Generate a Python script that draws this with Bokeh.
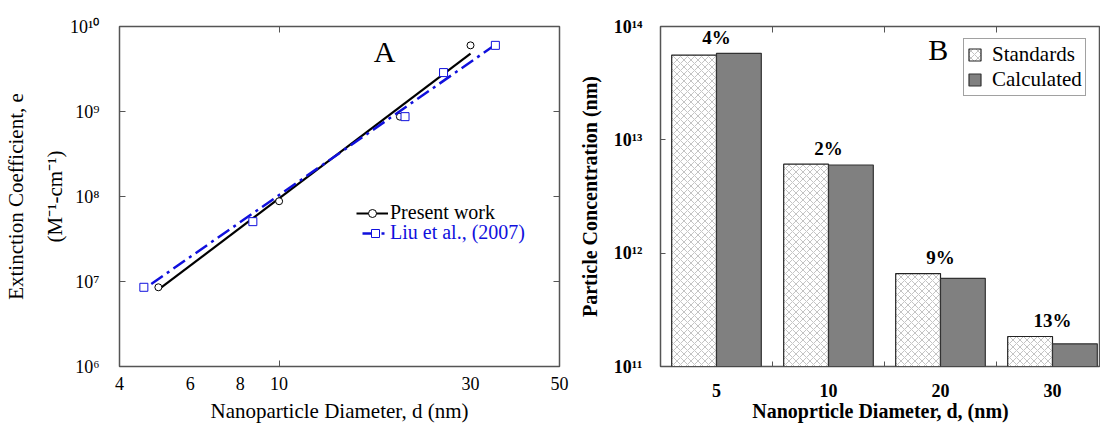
from bokeh.plotting import figure
from bokeh.models import (LogAxis, LinearAxis, FixedTicker, Label, Legend, LegendItem, Range1d)
from bokeh.layouts import row
from bokeh.core.properties import value
from bokeh.embed import file_html
from bokeh.resources import INLINE

SERIF = "'Liberation Serif', 'Times New Roman', serif"

# ---------------- Panel A data ----------------
diam_present = [5, 10, 20, 30]
eps_present = [8.55e6, 8.8e7, 8.7e8, 6.0e9]
fit_present_d = [5, 30]
fit_present_e = [8.0e6, 4.79e9]

diam_liu = [4.6, 8.6, 20.6, 25.7, 34.6]
eps_liu = [8.55e6, 5.06e7, 8.7e8, 2.87e9, 6.0e9]
fit_liu_d = [4.8, 34.6]
fit_liu_e = [9.35e6, 6.1e9]

a_xticks = [4, 6, 8, 10, 30, 50]
a_yticks = [1e6, 1e7, 1e8, 1e9, 1e10]
a_ylabels = ["10⁶", "10⁷", "10⁸", "10⁹", "10¹⁰"]

# ---------------- Panel B data ----------------
sizes = ["5", "10", "20", "30"]
standards = [5.6e13, 6.1e12, 6.6e11, 1.84e11]
calculated = [5.8e13, 6.0e12, 6.0e11, 1.585e11]
pct = ["4%", "2%", "9%", "13%"]
b_yticks = [1e11, 1e12, 1e13, 1e14]
b_ylabels = ["10¹¹", "10¹²", "10¹³", "10¹⁴"]

FRAME = "#555555"


def blank_axis(cls, ticks, tick_in, **kw):
    return cls(ticker=FixedTicker(ticks=ticks, minor_ticks=[]),
               major_label_overrides={t: "" for t in ticks},
               major_label_text_font_size="0px", axis_line_color=None,
               major_tick_in=tick_in, major_tick_out=0, major_tick_line_color=FRAME,
               minor_tick_in=0, minor_tick_out=0, major_label_standoff=0, **kw)


# ================= Panel A =================
p1 = figure(width=575, height=425, x_axis_type="log", y_axis_type="log",
            x_range=Range1d(4, 50), y_range=Range1d(1e6, 1e10),
            output_backend="svg", toolbar_location=None,
            min_border_left=113, min_border_right=16,
            min_border_top=26, min_border_bottom=57)
p1.grid.visible = False
p1.outline_line_color = FRAME
p1.outline_line_width = 1.5

xa = p1.xaxis[0]
xa.ticker = FixedTicker(ticks=a_xticks, minor_ticks=[10])
xa.major_label_overrides = {t: str(t) for t in a_xticks}
xa.axis_line_color = None
xa.major_tick_in = 0
xa.major_tick_out = 0
xa.minor_tick_in = 6
xa.minor_tick_out = 0
xa.minor_tick_line_color = FRAME
xa.major_label_standoff = 10
xa.major_label_text_font = SERIF
xa.major_label_text_font_size = "18px"
xa.major_label_text_color = "black"
xa.axis_label = "Nanoparticle Diameter, d (nm)"
xa.axis_label_standoff = 6
xa.axis_label_text_font = SERIF
xa.axis_label_text_font_style = "normal"
xa.axis_label_text_font_size = "21px"
xa.axis_label_text_color = "black"

ya = p1.yaxis[0]
ya.ticker = FixedTicker(ticks=a_yticks, minor_ticks=[])
ya.major_label_overrides = dict(zip(a_yticks, a_ylabels))
ya.axis_line_color = None
ya.major_tick_in = 6
ya.major_tick_out = 0
ya.major_tick_line_color = FRAME
ya.minor_tick_in = 0
ya.minor_tick_out = 0
ya.major_label_standoff = 20
ya.major_label_text_font = SERIF
ya.major_label_text_font_size = "18px"
ya.major_label_text_color = "black"
ya.axis_label = "(M⁻¹-cm⁻¹)"
ya.axis_label_standoff = 0
ya.axis_label_text_font = SERIF
ya.axis_label_text_font_style = "normal"
ya.axis_label_text_font_size = "21px"
ya.axis_label_text_color = "black"

ya2 = blank_axis(LogAxis, [], 0,
                 axis_label="Extinction Coefficient, e", axis_label_standoff=13,
                 axis_label_text_font=SERIF, axis_label_text_font_style="normal",
                 axis_label_text_font_size="21px", axis_label_text_color="black")
p1.add_layout(ya2, "left")

p1.add_layout(blank_axis(LogAxis, a_yticks, 6), "right")
p1.add_layout(blank_axis(LogAxis, [10], 6), "above")

BLUE = "#1010dd"
rl_p = p1.line(fit_present_d, fit_present_e, line_color="black", line_width=2.2)
rs_p = p1.scatter(diam_present, eps_present, marker="circle", size=7,
                  line_color="black", fill_color="white", line_width=1)
rl_l = p1.line(fit_liu_d, fit_liu_e, line_color=BLUE, line_width=2.5,
               line_dash="14 5 3 5")
rs_l = p1.scatter(diam_liu, eps_liu, marker="square", size=8,
                  line_color=BLUE, fill_color="white", line_width=1)

leg1 = Legend(items=[LegendItem(label="Present work", renderers=[rl_p, rs_p])],
              location=(237, 142), glyph_width=32, glyph_height=20,
              label_standoff=2, padding=0, margin=0, spacing=0,
              border_line_color=None, background_fill_alpha=0,
              label_text_font=SERIF, label_text_font_size="20px",
              label_text_color="black", label_height=20)
leg2 = Legend(items=[LegendItem(label="Liu et al., (2007)", renderers=[rl_l, rs_l])],
              location=(243, 122), glyph_width=26, glyph_height=20,
              label_standoff=2, padding=0, margin=0, spacing=0,
              border_line_color=None, background_fill_alpha=0,
              label_text_font=SERIF, label_text_font_size="20px",
              label_text_color=BLUE, label_height=20)
p1.add_layout(leg1)
p1.add_layout(leg2)

p1.add_layout(Label(x=265, y=315, x_units="screen", y_units="screen", text="A",
                    text_font=SERIF, text_font_size="30px", text_align="center",
                    text_baseline="middle", text_color="black"))

# ================= Panel B =================
p2 = figure(width=525, height=425, y_axis_type="log",
            x_range=Range1d(0.5, 4.4286), y_range=Range1d(1e11, 1e14),
            output_backend="svg", toolbar_location=None,
            min_border_left=85, min_border_right=0,
            min_border_top=23, min_border_bottom=58)
p2.grid.visible = False
p2.outline_line_color = FRAME
p2.outline_line_width = 1.5

pos = [i + 1 for i in range(len(sizes))]
std_x = [x - 0.2 for x in pos]
calc_x = [x + 0.2 for x in pos]
tops = [max(a, b) for a, b in zip(standards, calculated)]

r_std = p2.vbar(x=std_x, top=standards, bottom=1e11, width=0.4,
                fill_color="white", line_color="#222222", line_width=1.2,
                hatch_pattern="diagonal_cross", hatch_color="#888888",
                hatch_scale=7, hatch_weight=0.5)
r_calc = p2.vbar(x=calc_x, top=calculated, bottom=1e11, width=0.4,
                 fill_color="#808080", line_color="#333333", line_width=1.2)
p2.text(x=pos, y=tops, text=pct, text_align="center", text_baseline="middle",
        y_offset=-16, text_font=value(SERIF), text_font_style="bold",
        text_font_size="19px", text_color="black")

xb = p2.xaxis[0]
xb.ticker = FixedTicker(ticks=pos, minor_ticks=[1.5, 2.5, 3.5])
xb.major_label_overrides = dict(zip(pos, sizes))
xb.axis_line_color = None
xb.major_tick_in = 0
xb.major_tick_out = 0
xb.minor_tick_in = 5
xb.minor_tick_out = 0
xb.minor_tick_line_color = FRAME
xb.major_label_standoff = 17
xb.major_label_text_font = SERIF
xb.major_label_text_font_style = "bold"
xb.major_label_text_font_size = "18px"
xb.major_label_text_color = "black"
xb.axis_label = "Nanoprticle Diameter, d, (nm)"
xb.axis_label_standoff = 0
xb.axis_label_text_font = SERIF
xb.axis_label_text_font_style = "bold"
xb.axis_label_text_font_size = "20px"
xb.axis_label_text_color = "black"

yb = p2.yaxis[0]
yb.ticker = FixedTicker(ticks=b_yticks, minor_ticks=[])
yb.major_label_overrides = dict(zip(b_yticks, b_ylabels))
yb.axis_line_color = None
yb.major_tick_in = 5
yb.major_tick_out = 0
yb.major_tick_line_color = FRAME
yb.minor_tick_in = 0
yb.minor_tick_out = 0
yb.major_label_standoff = 18
yb.major_label_text_font = SERIF
yb.major_label_text_font_style = "bold"
yb.major_label_text_font_size = "18px"
yb.major_label_text_color = "black"
yb.axis_label = "Particle Concentration (nm)"
yb.axis_label_standoff = 10
yb.axis_label_text_font = SERIF
yb.axis_label_text_font_style = "bold"
yb.axis_label_text_font_size = "20px"
yb.axis_label_text_color = "black"

p2.add_layout(blank_axis(LinearAxis, [1.5, 2.5, 3.5], 6), "above")

leg3 = Legend(items=[LegendItem(label="Standards", renderers=[r_std]),
                     LegendItem(label="Calculated", renderers=[r_calc])],
              location=(303, 270), glyph_width=15, glyph_height=15,
              label_standoff=10, padding=3, margin=0, spacing=0,
              label_width=89, label_height=21,
              border_line_color="#444444", border_line_width=1.5,
              background_fill_color="white", background_fill_alpha=1,
              label_text_font=SERIF, label_text_font_size="21px",
              label_text_color="black")
p2.add_layout(leg3)

p2.add_layout(Label(x=277.7, y=317, x_units="screen", y_units="screen", text="B",
                    text_font=SERIF, text_font_size="30px", text_align="center",
                    text_baseline="middle", text_color="black"))

layout = row(p1, p2)
open("out.html", "w").write(file_html(layout, INLINE))
